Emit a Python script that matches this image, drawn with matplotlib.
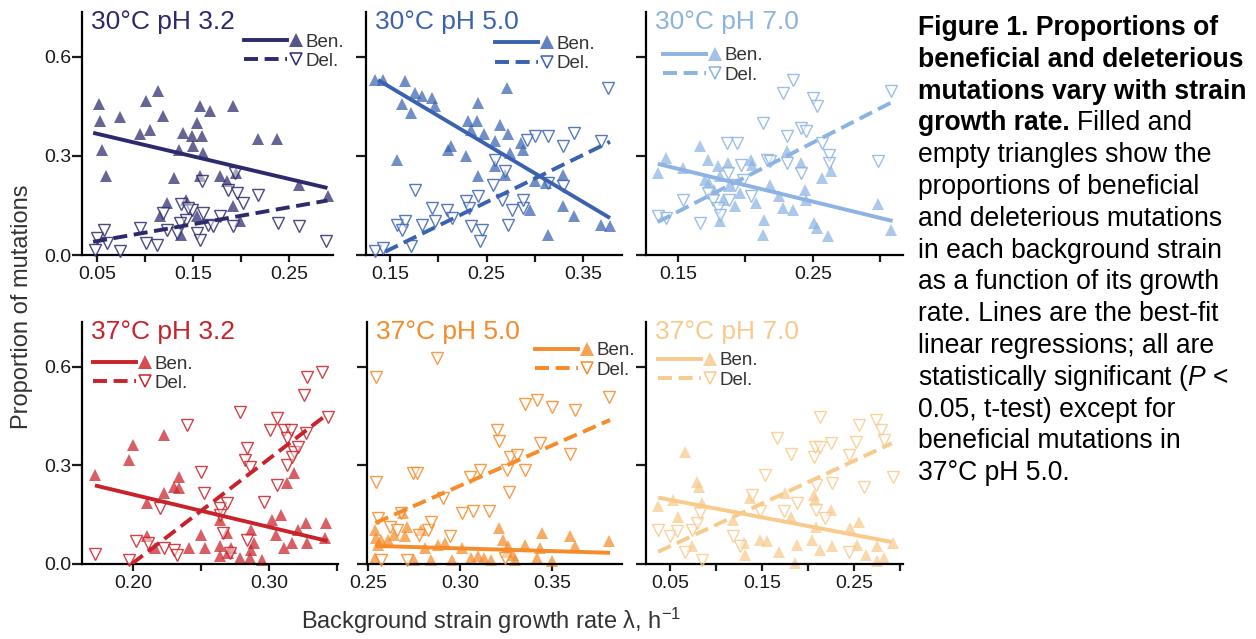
import numpy as np
import matplotlib
matplotlib.use('Agg')
import matplotlib.pyplot as plt
from matplotlib.lines import Line2D
from matplotlib.colors import to_rgba
from matplotlib.legend_handler import HandlerBase

plt.rcParams['font.family'] = ['Liberation Sans', 'DejaVu Sans']
plt.rcParams['mathtext.fontset'] = 'custom'
plt.rcParams['mathtext.rm'] = 'Liberation Sans'
plt.rcParams['mathtext.it'] = 'Liberation Sans:italic'

# --- data: (growth rate, proportion) ---
ben_30_32 = np.array([
    (0.052, 0.457), (0.053, 0.405), (0.055, 0.319), (0.059, 0.238), (0.074, 0.417),
    (0.095, 0.365), (0.101, 0.466), (0.105, 0.380), (0.114, 0.496), (0.119, 0.420),
    (0.130, 0.233), (0.135, 0.319), (0.140, 0.370), (0.143, 0.168), (0.149, 0.360),
    (0.150, 0.329), (0.154, 0.400), (0.157, 0.450), (0.159, 0.360), (0.160, 0.310),
    (0.157, 0.238), (0.168, 0.435), (0.178, 0.238), (0.185, 0.223), (0.192, 0.450),
    (0.195, 0.248), (0.192, 0.147), (0.199, 0.102), (0.123, 0.158), (0.116, 0.117),
    (0.138, 0.062), (0.154, 0.117), (0.218, 0.350), (0.237, 0.350), (0.260, 0.213),
    (0.291, 0.178)])
del_30_32 = np.array([
    (0.050, 0.052), (0.057, 0.077), (0.048, 0.016), (0.060, 0.036), (0.074, 0.011),
    (0.095, 0.082), (0.101, 0.036), (0.112, 0.031), (0.119, 0.127), (0.123, 0.077),
    (0.133, 0.067), (0.138, 0.153), (0.143, 0.107), (0.149, 0.137), (0.154, 0.067),
    (0.157, 0.046), (0.160, 0.127), (0.166, 0.092), (0.171, 0.087), (0.159, 0.223),
    (0.178, 0.117), (0.186, 0.198), (0.192, 0.087), (0.194, 0.248), (0.196, 0.188),
    (0.202, 0.158), (0.218, 0.183), (0.239, 0.097), (0.260, 0.087), (0.289, 0.041),
    (0.145, 0.142), (0.136, 0.097)])

ben_30_50 = np.array([
    (0.1345, 0.531), (0.143, 0.531), (0.1655, 0.526), (0.176, 0.491), (0.162, 0.456),
    (0.172, 0.430), (0.183, 0.481), (0.193, 0.476), (0.197, 0.450), (0.157, 0.289),
    (0.210, 0.319), (0.213, 0.329), (0.229, 0.299), (0.231, 0.405), (0.240, 0.405),
    (0.234, 0.380), (0.241, 0.461), (0.247, 0.365), (0.259, 0.344), (0.264, 0.395),
    (0.271, 0.506), (0.272, 0.365), (0.274, 0.309), (0.259, 0.269), (0.269, 0.243),
    (0.241, 0.238), (0.286, 0.339), (0.288, 0.319), (0.300, 0.223), (0.312, 0.218),
    (0.329, 0.243), (0.295, 0.137), (0.329, 0.147), (0.341, 0.117), (0.314, 0.062),
    (0.369, 0.092), (0.378, 0.087)])
del_30_50 = np.array([
    (0.1345, 0.011), (0.143, 0.021), (0.176, 0.198), (0.157, 0.092), (0.1655, 0.102),
    (0.162, 0.077), (0.172, 0.026), (0.183, 0.092), (0.193, 0.142), (0.197, 0.102),
    (0.209, 0.137), (0.214, 0.112), (0.229, 0.163), (0.232, 0.142), (0.234, 0.087),
    (0.241, 0.178), (0.245, 0.077), (0.243, 0.041), (0.259, 0.289), (0.257, 0.213),
    (0.266, 0.168), (0.269, 0.254), (0.272, 0.092), (0.276, 0.137), (0.288, 0.142),
    (0.288, 0.168), (0.292, 0.349), (0.300, 0.360), (0.314, 0.360), (0.314, 0.218),
    (0.329, 0.329), (0.329, 0.208), (0.341, 0.370), (0.369, 0.344), (0.376, 0.506)])

ben_30_70 = np.array([
    (0.135, 0.248), (0.141, 0.294), (0.154, 0.264), (0.166, 0.329), (0.172, 0.289),
    (0.170, 0.228), (0.180, 0.269), (0.181, 0.238), (0.181, 0.102), (0.183, 0.168),
    (0.187, 0.279), (0.188, 0.208), (0.192, 0.147), (0.196, 0.188), (0.204, 0.289),
    (0.205, 0.274), (0.208, 0.158), (0.214, 0.107), (0.213, 0.062), (0.218, 0.213),
    (0.225, 0.178), (0.228, 0.142), (0.231, 0.314), (0.235, 0.137), (0.241, 0.279),
    (0.244, 0.198), (0.245, 0.168), (0.251, 0.097), (0.253, 0.082), (0.257, 0.233),
    (0.261, 0.057), (0.263, 0.254), (0.298, 0.153), (0.308, 0.077), (0.173, 0.218),
    (0.177, 0.198)])
del_30_70 = np.array([
    (0.135, 0.117), (0.141, 0.112), (0.154, 0.168), (0.166, 0.097), (0.172, 0.188),
    (0.176, 0.168), (0.180, 0.142), (0.181, 0.122), (0.186, 0.339), (0.187, 0.248),
    (0.188, 0.168), (0.192, 0.213), (0.194, 0.339), (0.197, 0.274), (0.198, 0.228),
    (0.204, 0.178), (0.213, 0.400), (0.216, 0.289), (0.228, 0.491), (0.231, 0.360),
    (0.231, 0.279), (0.235, 0.531), (0.241, 0.385), (0.241, 0.248), (0.250, 0.476),
    (0.253, 0.450), (0.257, 0.339), (0.262, 0.304), (0.262, 0.279), (0.298, 0.284),
    (0.308, 0.496), (0.218, 0.284), (0.245, 0.375)])

ben_37_32 = np.array([
    (0.172, 0.271), (0.197, 0.316), (0.200, 0.362), (0.210, 0.084), (0.210, 0.185),
    (0.223, 0.392), (0.223, 0.215), (0.230, 0.235), (0.234, 0.266), (0.234, 0.230),
    (0.216, 0.048), (0.241, 0.048), (0.250, 0.089), (0.253, 0.048), (0.264, 0.134),
    (0.264, 0.054), (0.269, 0.094), (0.272, 0.048), (0.264, 0.023), (0.270, 0.033),
    (0.286, 0.018), (0.287, 0.043), (0.287, 0.104), (0.289, 0.064), (0.295, 0.013),
    (0.302, 0.134), (0.309, 0.150), (0.305, 0.089), (0.311, 0.048), (0.3135, 0.245),
    (0.318, 0.276), (0.321, 0.104), (0.317, 0.064), (0.327, 0.124), (0.328, 0.064),
    (0.342, 0.124), (0.341, 0.079), (0.279, 0.018)])
del_37_32 = np.array([
    (0.172, 0.031), (0.197, 0.013), (0.202, 0.069), (0.211, 0.064), (0.223, 0.048),
    (0.230, 0.043), (0.232, 0.028), (0.220, 0.170), (0.240, 0.422), (0.250, 0.281),
    (0.252, 0.215), (0.264, 0.170), (0.264, 0.150), (0.269, 0.185), (0.266, 0.094),
    (0.271, 0.033), (0.279, 0.463), (0.282, 0.316), (0.284, 0.352), (0.286, 0.296),
    (0.284, 0.074), (0.296, 0.190), (0.301, 0.407), (0.306, 0.443), (0.306, 0.240),
    (0.311, 0.407), (0.313, 0.301), (0.313, 0.382), (0.316, 0.407), (0.318, 0.341),
    (0.321, 0.357), (0.317, 0.326), (0.326, 0.513), (0.327, 0.397), (0.328, 0.569),
    (0.339, 0.585), (0.343, 0.447)])

ben_37_50 = np.array([
    (0.2536, 0.104), (0.2545, 0.079), (0.2555, 0.059), (0.2536, 0.018), (0.257, 0.074),
    (0.261, 0.074), (0.264, 0.089), (0.269, 0.155), (0.271, 0.114), (0.270, 0.084),
    (0.275, 0.013), (0.279, 0.104), (0.281, 0.048), (0.2845, 0.013), (0.288, 0.059),
    (0.292, 0.064), (0.2955, 0.013), (0.301, 0.048), (0.306, 0.018), (0.310, 0.023),
    (0.313, 0.018), (0.317, 0.013), (0.321, 0.109), (0.3236, 0.074), (0.3255, 0.038),
    (0.329, 0.028), (0.330, 0.013), (0.3355, 0.059), (0.342, 0.018), (0.3436, 0.048),
    (0.3445, 0.094), (0.350, 0.008), (0.360, 0.084), (0.3627, 0.054), (0.381, 0.069),
    (0.326, 0.054)])
del_37_50 = np.array([
    (0.2545, 0.250), (0.2545, 0.568), (0.2555, 0.140), (0.257, 0.013), (0.262, 0.114),
    (0.266, 0.104), (0.268, 0.155), (0.271, 0.013), (0.2745, 0.276), (0.2765, 0.276),
    (0.278, 0.089), (0.2827, 0.104), (0.2845, 0.129), (0.2873, 0.628), (0.291, 0.200),
    (0.2945, 0.084), (0.301, 0.155), (0.3055, 0.266), (0.307, 0.160), (0.311, 0.286),
    (0.3155, 0.160), (0.320, 0.408), (0.321, 0.373), (0.3255, 0.286), (0.3264, 0.220),
    (0.327, 0.326), (0.331, 0.331), (0.3355, 0.488), (0.3355, 0.286), (0.342, 0.498),
    (0.3436, 0.367), (0.350, 0.478), (0.360, 0.336), (0.3627, 0.468), (0.381, 0.508),
    (0.3245, 0.018)])

ben_37_70 = np.array([
    (0.0373, 0.175), (0.0536, 0.195), (0.059, 0.144), (0.066, 0.341), (0.079, 0.250),
    (0.081, 0.235), (0.0845, 0.185), (0.0736, 0.054), (0.119, 0.134), (0.132, 0.028),
    (0.130, 0.064), (0.137, 0.200), (0.148, 0.074), (0.155, 0.069), (0.168, 0.038),
    (0.175, 0.215), (0.181, 0.144), (0.186, 0.003), (0.188, 0.059), (0.2045, 0.074),
    (0.206, 0.210), (0.208, 0.195), (0.209, 0.114), (0.2136, 0.043), (0.2245, 0.165),
    (0.226, 0.054), (0.246, 0.109), (0.2555, 0.129), (0.2536, 0.059), (0.2627, 0.028),
    (0.2755, 0.054), (0.2827, 0.018), (0.292, 0.064), (0.2755, 0.008)])
del_37_70 = np.array([
    (0.0373, 0.104), (0.050, 0.084), (0.0573, 0.099), (0.066, 0.038), (0.0736, 0.104),
    (0.079, 0.124), (0.0827, 0.155), (0.0845, 0.013), (0.119, 0.084), (0.1264, 0.054),
    (0.139, 0.210), (0.148, 0.160), (0.1536, 0.271), (0.166, 0.382), (0.1736, 0.160),
    (0.181, 0.336), (0.188, 0.185), (0.206, 0.326), (0.208, 0.357), (0.209, 0.240),
    (0.209, 0.165), (0.2136, 0.447), (0.2136, 0.357), (0.219, 0.139), (0.2245, 0.367),
    (0.226, 0.245), (0.2445, 0.331), (0.2527, 0.372), (0.2555, 0.422), (0.261, 0.235),
    (0.2736, 0.437), (0.279, 0.407), (0.2827, 0.377), (0.292, 0.266), (0.2445, 0.038)])

# best-fit line end points (x0, y0), (x1, y1)
ben_fits = [[(0.046, 0.370), (0.290, 0.203)],
            [(0.1376, 0.530), (0.378, 0.112)],
            [(0.135, 0.276), (0.309, 0.103)],
            [(0.172, 0.239), (0.343, 0.070)],
            [(0.254, 0.055), (0.3815, 0.034)],
            [(0.037, 0.202), (0.291, 0.067)]]
del_fits = [[(0.046, 0.040), (0.290, 0.165)],
            [(0.145, 0.010), (0.378, 0.343)],
            [(0.135, 0.100), (0.309, 0.464)],
            [(0.199, 0.000), (0.343, 0.456)],
            [(0.254, 0.125), (0.3815, 0.438)],
            [(0.037, 0.037), (0.291, 0.367)]]

titles = ['30°C pH 3.2', '30°C pH 5.0', '30°C pH 7.0',
          '37°C pH 3.2', '37°C pH 5.0', '37°C pH 7.0']
colors = ['#2c2a6c', '#3b62b1', '#8db3e2', '#c9222b', '#f58b29', '#f8ca8c']
ben_data = [ben_30_32, ben_30_50, ben_30_70, ben_37_32, ben_37_50, ben_37_70]
del_data = [del_30_32, del_30_50, del_30_70, del_37_32, del_37_50, del_37_70]

xticks = [[0.05, 0.10, 0.15, 0.20, 0.25],
          [0.15, 0.20, 0.25, 0.30, 0.35],
          [0.15, 0.20, 0.25, 0.30],
          [0.20, 0.25, 0.30, 0.35],
          [0.25, 0.30, 0.35],
          [0.05, 0.10, 0.15, 0.20, 0.25, 0.30]]
xticklabels = [['0.05', '', '0.15', '', '0.25'],
               ['0.15', '', '0.25', '', '0.35'],
               ['0.15', '', '0.25', ''],
               ['0.20', '', '0.30', ''],
               ['0.25', '0.30', '0.35'],
               ['0.05', '', '0.15', '', '0.25', '']]
yticks = [0.0, 0.3, 0.6]

caption_bold = ['Figure 1. Proportions of', 'beneficial and deleterious',
                'mutations vary with strain', 'growth rate.']
caption_rest = ['Filled and', 'empty triangles show the', 'proportions of beneficial',
                'and deleterious mutations', 'in each background strain',
                'as a function of its growth', 'rate. Lines are the best-fit',
                'linear regressions; all are', r'statistically significant ($\mathit{P}$ <',
                '0.05, t-test) except for', 'beneficial mutations in', '37°C pH 5.0.']

# --- layout ---
W, H = 1256, 639
rects = [(82, 12, 251, 243), (366, 12, 256, 243), (646, 12, 257, 243),
         (82, 322, 256, 242), (367, 322, 255, 242), (646, 322, 257, 242)]
xlims = [(0.0344, 0.2958), (0.1251, 0.3904), (0.1263, 0.3167),
         (0.1625, 0.3507), (0.2495, 0.388), (0.0239, 0.3033)]
legend_pos = [(0.644, 0.912), (0.504, 0.902), (0.066, 0.855),
              (0.043, 0.862), (0.659, 0.916), (0.047, 0.875)]
DASH = (0, (3.6, 1.7))


class LineTriangle(HandlerBase):
    def create_artists(self, legend, orig_handle, xdescent, ydescent,
                       width, height, fontsize, trans):
        color, ls, marker, filled = orig_handle
        y = height / 2 - ydescent
        x0 = -xdescent
        ln = Line2D([x0, x0 + width * 0.74], [y, y], color=color, lw=2.8,
                    linestyle=ls, dash_capstyle='butt')
        if filled:
            mk = Line2D([x0 + width * 0.9], [y], marker=marker, ls='none',
                        markersize=9.5, markerfacecolor=to_rgba(color, 0.8),
                        markeredgewidth=0)
        else:
            mk = Line2D([x0 + width * 0.9], [y], marker=marker, ls='none',
                        markersize=9, markerfacecolor='white',
                        markeredgecolor=color, markeredgewidth=1.1)
        ln.set_transform(trans)
        mk.set_transform(trans)
        return [ln, mk]


fig = plt.figure(figsize=(W / 100, H / 100), dpi=100)

for i in range(6):
    l, t, w, h = rects[i]
    ax = fig.add_axes([l / W, 1 - (t + h) / H, w / W, h / H])
    c = colors[i]
    ben = ben_data[i]
    dele = del_data[i]
    ax.plot(ben[:, 0], ben[:, 1], ls='none', marker='^', markersize=8.5,
            markerfacecolor=to_rgba(c, 0.72), markeredgewidth=0, clip_on=False, zorder=2)
    ax.plot(dele[:, 0], dele[:, 1], ls='none', marker='v', markersize=8,
            markerfacecolor=(1, 1, 1, 0.45), markeredgecolor=to_rgba(c, 0.85),
            markeredgewidth=1.0, clip_on=False, zorder=3)
    bf = np.array(ben_fits[i])
    df = np.array(del_fits[i])
    ax.plot(bf[:, 0], bf[:, 1], color=c, lw=2.8, solid_capstyle='butt', zorder=4)
    ax.plot(df[:, 0], df[:, 1], color=c, lw=2.8, linestyle=DASH,
            dash_capstyle='butt', zorder=4)

    ax.set_xlim(xlims[i])
    ax.set_ylim(0, 0.736)
    ax.set_xticks(xticks[i])
    ax.set_xticklabels(xticklabels[i])
    ax.set_yticks(yticks)
    if i % 3 == 0:
        ax.set_yticklabels(['0.0', '0.3', '0.6'])
    else:
        ax.set_yticklabels([])
    for s in ['top', 'right']:
        ax.spines[s].set_visible(False)
    for s in ['left', 'bottom']:
        ax.spines[s].set_linewidth(1.6)
    ax.tick_params(axis='x', length=5, width=1.6, labelsize=14, pad=3, colors='#1a1a1a')
    ax.tick_params(axis='y', length=7, width=1.6, labelsize=14, pad=1, colors='#1a1a1a')
    ax.patch.set_visible(False)

    ax.text(0.035, 0.957, titles[i], transform=ax.transAxes, color=c,
            fontsize=19, ha='left', va='center')

    handles = [(c, '-', '^', True), (c, DASH, 'v', False)]
    ax.legend(handles, ['Ben.', 'Del.'], handler_map={tuple: LineTriangle()},
              loc='upper left', bbox_to_anchor=legend_pos[i], frameon=False,
              fontsize=13.5, handlelength=3.1, handletextpad=0.2, labelspacing=0.12,
              borderpad=0, borderaxespad=0, labelcolor='#333333')

fig.text(22 / W, 1 - 307 / H, 'Proportion of mutations', rotation=90,
         ha='center', va='center', fontsize=17, color='#333333')
fig.text(491 / W, 1 - 621 / H, r'Background strain growth rate λ, h$^{\mathregular{-1}}$',
         ha='center', va='center', fontsize=17, color='#333333')

# caption
cap_x = 918 / W
line_h = 31.8
renderer = fig.canvas.get_renderer()
n_bold = len(caption_bold)
for k, txt in enumerate(caption_bold):
    tb = fig.text(cap_x, 1 - (28 + k * line_h) / H, txt, fontsize=19.1,
                  fontweight='bold', ha='left', va='center', color='black')
bb = tb.get_window_extent(renderer=renderer)
x_after = (bb.x1 + 7) / W
fig.text(x_after, 1 - (28 + (n_bold - 1) * line_h) / H, caption_rest[0],
         fontsize=19.1, ha='left', va='center', color='black')
for k, txt in enumerate(caption_rest[1:]):
    fig.text(cap_x, 1 - (28 + (n_bold + k) * line_h) / H, txt, fontsize=19.1,
             ha='left', va='center', color='black')

fig.savefig('out.png', dpi=100)
